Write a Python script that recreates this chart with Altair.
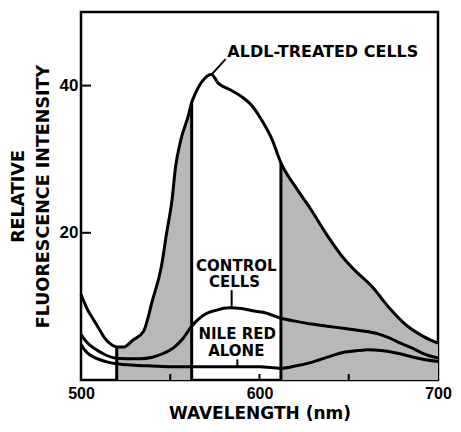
import altair as alt
import pandas as pd

# ---- data ----
aldl_wl = [500, 504, 507, 510, 513, 516, 520, 524, 529, 535, 540, 545, 548, 551, 553, 556, 560, 562,
           564, 569, 573, 577, 583, 590, 596, 601, 607, 612, 620, 629, 637, 648, 653, 663, 672, 683, 692, 700]
aldl_val = [11.6, 9.4, 8.2, 7.0, 5.8, 5.0, 4.5, 4.5, 5.4, 6.6, 10.8, 15.4, 20.0, 24.5, 29.0, 32.7, 35.8, 37.7,
            38.9, 40.9, 41.5, 40.3, 39.5, 38.5, 37.2, 35.4, 32.7, 29.5, 26.3, 23.1, 20.0, 16.3, 15.0, 12.7, 10.0, 7.3, 5.9, 5.0]

ctrl_wl = [500, 503, 508, 513, 519, 526, 533, 540, 546, 552, 557, 562, 566, 570, 576, 583, 590, 596,
           602, 612, 620, 629, 638, 648, 657, 666, 673, 679, 685, 690, 695, 700]
ctrl_val = [6.2, 5.2, 4.2, 3.5, 3.0, 2.9, 2.9, 3.1, 3.6, 4.4, 5.6, 7.3, 8.3, 9.0, 9.5, 9.8, 9.7, 9.4,
            9.2, 8.4, 8.0, 7.6, 7.3, 7.0, 6.7, 6.3, 5.7, 5.0, 4.4, 3.8, 3.3, 3.0]

nile_wl = [500, 503, 508, 514, 520, 530, 540, 550, 560, 570, 580, 590, 600, 612, 620, 629, 638, 648,
           655, 661, 668, 676, 688, 700]
nile_val = [4.8, 3.8, 3.0, 2.5, 2.2, 2.0, 1.9, 1.8, 1.8, 1.8, 1.8, 1.8, 1.8, 1.6, 1.9, 2.4, 3.1, 3.8,
            4.0, 4.1, 4.0, 3.7, 3.0, 2.5]

cut_wl = [520, 562, 612]                 # vertical dividers
shade_ranges = [(520, 562), (612, 700)]  # stippled bands
x_ticks = [500, 600, 700]
y_ticks = [20, 40]
minor_x = [550, 600, 650]

main_label = ["ALDL-TREATED CELLS"]
main_label_x = [582]
main_label_y = [44.5]

sub_labels = ["CONTROL", "CELLS", "NILE RED", "ALONE"]
sub_label_x = [587, 586, 587.5, 587]
sub_label_y = [15.5, 13.3, 6.25, 4.0]

leader_x = [573.5, 584.4, 587.6]
leader_x2 = [581, 584.4, 587.6]
leader_y = [41.6, 9.8, 1.8]
leader_y2 = [43.6, 12.2, 2.8]

W, H = 357, 368
FONT = "DejaVu Sans"
NUM_FONT = "Liberation Sans"

# ---- tables ----
aldl_df = pd.DataFrame({"wl": aldl_wl, "v": aldl_val})
curves = pd.concat([
    aldl_df.assign(s="aldl"),
    pd.DataFrame({"wl": ctrl_wl, "v": ctrl_val, "s": "ctrl"}),
    pd.DataFrame({"wl": nile_wl, "v": nile_val, "s": "nile"}),
])
shade_parts = [aldl_df[(aldl_df.wl >= a) & (aldl_df.wl <= b)] for (a, b) in shade_ranges]
cuts = aldl_df[aldl_df.wl.isin(cut_wl)].assign(base=0.0)
main_df = pd.DataFrame({"t": main_label, "x": main_label_x, "y": main_label_y})
sub_df = pd.DataFrame({"t": sub_labels, "x": sub_label_x, "y": sub_label_y})
leaders = pd.DataFrame({"x": leader_x, "x2": leader_x2, "y": leader_y, "y2": leader_y2})

xs = alt.Scale(domain=[500, 700], nice=False, zero=False)
ys = alt.Scale(domain=[0, 50], nice=False, zero=False)

xax = alt.Axis(values=x_ticks, ticks=False, domain=False, grid=False, labelFlush=False,
               labelOverlap=False, labelFont=NUM_FONT, labelFontSize=16, labelFontWeight="bold",
               labelColor="black", labelPadding=5, title="WAVELENGTH (nm)", titleFont=FONT,
               titleFontSize=17, titleFontWeight="bold", titleColor="black", titlePadding=4)
yax = alt.Axis(values=y_ticks, ticks=False, domain=False, grid=False, labelFont=NUM_FONT,
               labelFontSize=17, labelFontWeight="bold", labelColor="black", labelPadding=3,
               title=["RELATIVE", "FLUORESCENCE INTENSITY"], titleFont=FONT, titleFontSize=17.5,
               titleFontWeight="bold", titleColor="black", titlePadding=7, titleLineHeight=25)

X = alt.X("wl:Q", scale=xs, axis=xax)
Y = alt.Y("v:Q", scale=ys, axis=yax, stack=None)

areas = [
    alt.Chart(part).mark_area(color="#b8b8b8", interpolate="monotone").encode(x=X, y=Y)
    for part in shade_parts
]
lines = alt.Chart(curves).mark_line(color="black", strokeWidth=3, interpolate="monotone").encode(
    x=X, y=Y, detail="s:N"
)
cut_rules = alt.Chart(cuts).mark_rule(color="black", strokeWidth=3).encode(
    x=alt.X("wl:Q", scale=xs), y=alt.Y("base:Q", scale=ys), y2="v:Q"
)
ytick_rules = alt.Chart(pd.DataFrame({"v": y_ticks})).mark_rule(color="black", strokeWidth=2).encode(
    y=alt.Y("v:Q", scale=ys), x=alt.value(0), x2=alt.value(10)
)
xtick_rules = alt.Chart(pd.DataFrame({"wl": minor_x})).mark_rule(color="black", strokeWidth=2).encode(
    x=alt.X("wl:Q", scale=xs), y=alt.value(H), y2=alt.value(H - 6)
)
leader_rules = alt.Chart(leaders).mark_rule(color="black", strokeWidth=2).encode(
    x=alt.X("x:Q", scale=xs), x2="x2:Q", y=alt.Y("y:Q", scale=ys), y2="y2:Q"
)
main_text = alt.Chart(main_df).mark_text(font=FONT, fontWeight="bold", color="black", baseline="middle",
                                         align="left", fontSize=16).encode(
    x=alt.X("x:Q", scale=xs), y=alt.Y("y:Q", scale=ys), text="t:N"
)
sub_text = alt.Chart(sub_df).mark_text(font=FONT, fontWeight="bold", color="black", baseline="middle",
                                       align="center", fontSize=15).encode(
    x=alt.X("x:Q", scale=xs), y=alt.Y("y:Q", scale=ys), text="t:N"
)

chart = alt.layer(*areas, lines, cut_rules, ytick_rules, xtick_rules, leader_rules, main_text, sub_text).properties(
    width=W, height=H,
    autosize=alt.AutoSizeParams(type="none"),
    padding={"left": 73, "top": 4, "right": 15, "bottom": 44},
).configure_view(stroke="black", strokeWidth=2.5)

chart.save("out.html", embed_options={"renderer": "svg", "actions": False})
